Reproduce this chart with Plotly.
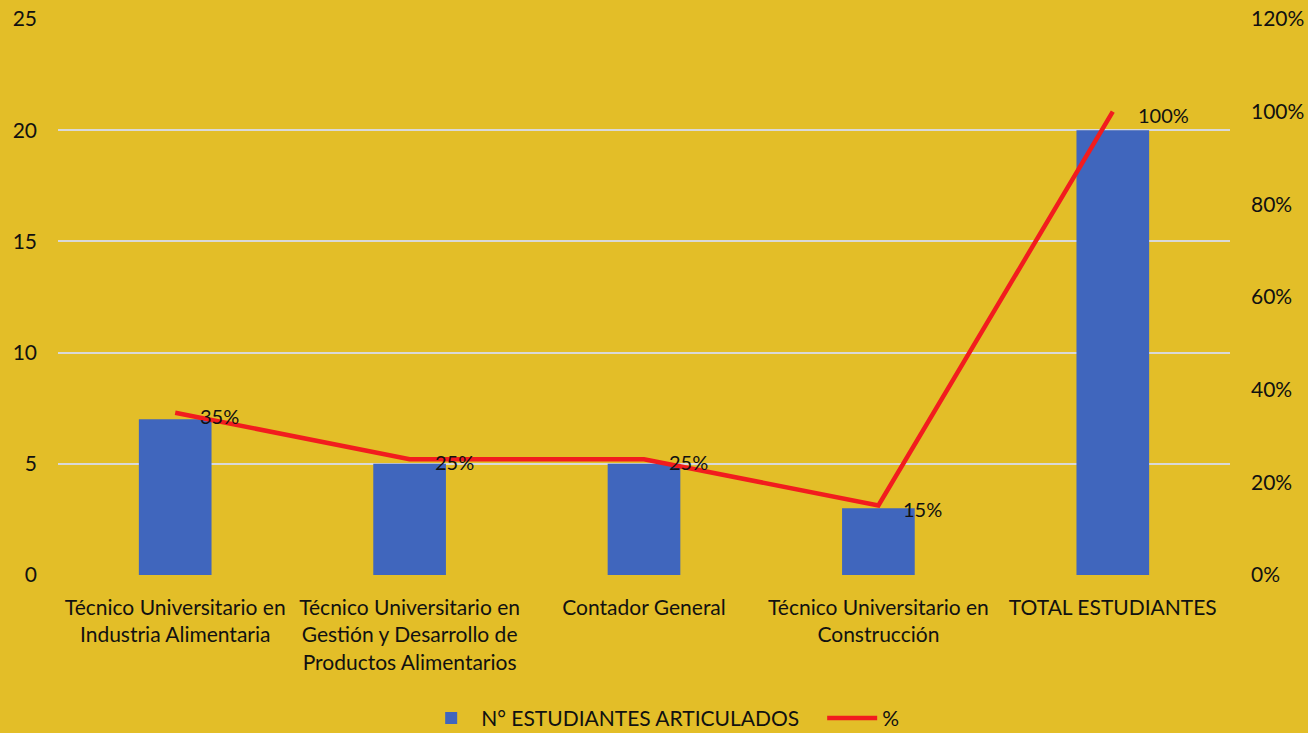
import plotly.graph_objects as go

categories = [
    "Técnico Universitario en<br>Industria Alimentaria",
    "Técnico Universitario en<br>Gestión y Desarrollo de<br>Productos Alimentarios",
    "Contador General",
    "Técnico Universitario en<br>Construcción",
    "TOTAL ESTUDIANTES",
]
students = [7, 5, 5, 3, 20]
percent = [0.35, 0.25, 0.25, 0.15, 1.00]
percent_labels = ["35%", "25%", "25%", "15%", "100%"]

BG = "#E3BE28"
FONT = "Lato"
FS = 21

fig = go.Figure()
fig.add_trace(go.Bar(
    x=categories, y=students, name="N° ESTUDIANTES ARTICULADOS",
    marker=dict(color="#4066BD", line=dict(width=0)), width=0.31,
))
fig.add_trace(go.Scatter(
    x=categories, y=percent, name="%", yaxis="y2", mode="lines",
    line=dict(color="#F21C1E", width=4.5),
))
for c, p, t in zip(categories, percent, percent_labels):
    fig.add_annotation(x=c, y=p, yref="y2", text=t, showarrow=False,
                       xanchor="left", yanchor="middle", xshift=23, yshift=-3,
                       font=dict(family=FONT, size=20, color="#111"))

fig.update_layout(
    width=1308, height=733,
    paper_bgcolor=BG, plot_bgcolor=BG,
    margin=dict(l=58, r=78, t=19, b=158, autoexpand=False),
    font=dict(family=FONT, size=FS, color="#111"),
    bargap=0.69,
    showlegend=True,
    legend=dict(orientation="h", x=0.322, xanchor="left", xref="container",
                y=0.02, yanchor="middle", yref="container",
                itemwidth=50, entrywidth=336, entrywidthmode="pixels",
                font=dict(size=FS), bgcolor="rgba(0,0,0,0)"),
    xaxis=dict(showgrid=False, ticks="", tickfont=dict(size=FS), showline=False,
               ticklabelstandoff=18, automargin=False),
    yaxis=dict(range=[0, 25], dtick=5, showgrid=True, gridcolor="#D9D9D9", gridwidth=1.5,
               zeroline=False, showline=False, ticklabelstandoff=20, tickfont=dict(size=FS),
               automargin=False),
    yaxis2=dict(range=[0, 1.2], dtick=0.2, tickformat=".0%", overlaying="y", side="right",
                showgrid=False, zeroline=False, showline=False, ticklabelstandoff=20,
                tickfont=dict(size=FS), automargin=False),
)

fig.write_html("out.html", config={"displayModeBar": False},
               post_script="document.body.style.margin='0';document.body.style.background='%s';" % BG)
